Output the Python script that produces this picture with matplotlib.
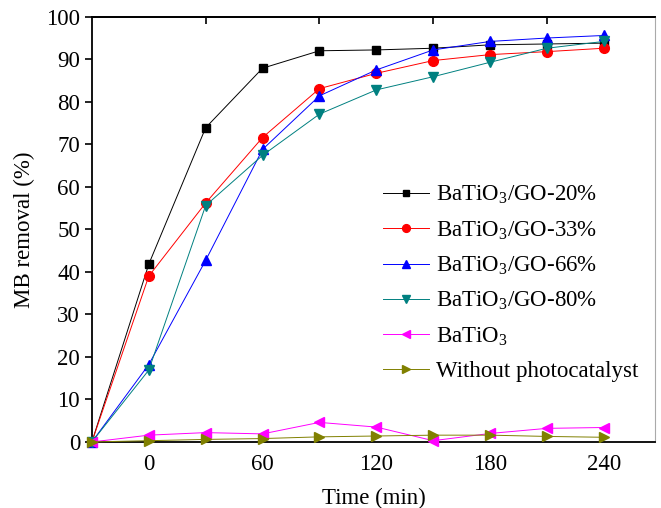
import matplotlib
matplotlib.use("Agg")
import matplotlib.pyplot as plt

plt.rcParams['font.family'] = ['Liberation Serif', 'DejaVu Serif']
plt.rcParams['mathtext.fontset'] = 'custom'
plt.rcParams['mathtext.rm'] = 'Liberation Serif'
plt.rcParams['mathtext.it'] = 'Liberation Serif:italic'

time_min = [-30, 0, 30, 60, 90, 120, 150, 180, 210, 240]

go20 = [0, 41.8, 73.9, 87.9, 92.0, 92.2, 92.6, 93.4, 93.6, 93.8]
go33 = [0, 39.0, 56.2, 71.6, 83.1, 86.7, 89.7, 91.1, 91.8, 92.6]
go66 = [0, 18.2, 42.7, 68.8, 81.4, 87.5, 92.2, 94.2, 95.0, 95.6]
go80 = [0, 16.9, 55.6, 67.4, 77.1, 82.8, 85.9, 89.3, 92.6, 94.2]
batio3 = [0, 1.6, 2.2, 1.9, 4.6, 3.5, 0.3, 2.0, 3.2, 3.4]
no_cat = [0, 0.3, 0.6, 0.8, 1.2, 1.4, 1.6, 1.6, 1.3, 1.1]

labels = ["BaTiO$_3$/GO-20%", "BaTiO$_3$/GO-33%", "BaTiO$_3$/GO-66%",
          "BaTiO$_3$/GO-80%", "BaTiO$_3$", "Without photocatalyst"]

x_ticks = [0, 60, 120, 180, 240]
top_ticks = [30, 90, 150, 210]
y_ticks = [0, 10, 20, 30, 40, 50, 60, 70, 80, 90, 100]

fs = 16.5

fig = plt.figure(figsize=(6.61, 5.08), dpi=100)
ax = fig.add_axes([0.139, 0.130, 0.852, 0.837])

series = [
    (go20, "black", "s", 6),
    (go33, "red", "o", 7),
    (go66, "blue", "^", 7.5),
    (go80, "#008080", "v", 7.5),
    (batio3, "#FF00FF", "<", 7.5),
    (no_cat, "#808000", ">", 7.5),
]
for (vals, col, mk, ms), lab in zip(series, labels):
    ax.plot(time_min, vals, color=col, lw=0.7, marker=mk, ms=ms,
            mec=col, mfc=col, label=lab, clip_on=False, zorder=3)

ax.set_xlim(-30, 267)
ax.set_ylim(0, 100)
ax.set_xticks(x_ticks)
ax.set_yticks(y_ticks)
ax.tick_params(axis='x', length=0, labelsize=fs, pad=9)
ax.tick_params(axis='y', direction='out', length=5, width=1.2, labelsize=fs)

top = ax.secondary_xaxis('top')
top.set_xticks(top_ticks)
top.tick_params(direction='in', length=5, width=1.2, labeltop=False)
top.spines['top'].set_linewidth(1.3)

for s in ['left', 'bottom']:
    ax.spines[s].set_linewidth(1.3)
ax.spines['top'].set_linewidth(1.3)
ax.spines['right'].set_linewidth(0.8)
ax.spines['right'].set_color('#aaaaaa')

ax.set_xlabel("Time (min)", fontsize=fs, labelpad=9)
ax.set_ylabel("MB removal (%)", fontsize=fs, labelpad=8)

ax.legend(loc='upper left', bbox_to_anchor=(0.517, 0.607), frameon=False,
          fontsize=fs, handlelength=2.0, handletextpad=0.3,
          labelspacing=0.57, borderpad=0, borderaxespad=0, markerscale=0.8)

fig.savefig("out.png", dpi=100)
